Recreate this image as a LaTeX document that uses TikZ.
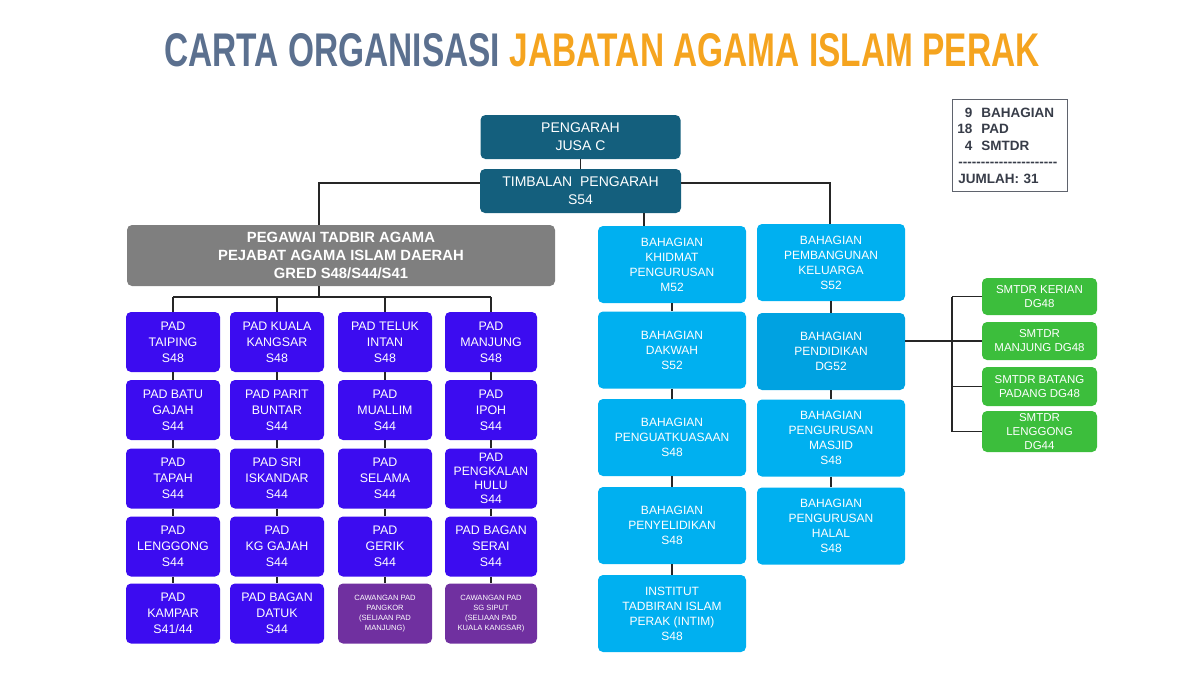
\documentclass[tikz,border=0pt]{standalone}
\usepackage{fontspec}
\setmainfont{Liberation Sans}
\usepackage{graphicx}
\usepackage{xcolor}
\usetikzlibrary{positioning, calc}
\definecolor{titleslate}{RGB}{91,112,143}
\definecolor{titleorange}{RGB}{245,164,31}
\definecolor{headteal}{RGB}{20,95,125}
\definecolor{daerahgrey}{RGB}{127,127,127}
\definecolor{padblue}{RGB}{60,12,240}
\definecolor{cawpurple}{RGB}{112,48,160}
\definecolor{unitcyan}{RGB}{0,176,240}
\definecolor{unitcyandark}{RGB}{0,162,225}
\definecolor{smtdrgreen}{RGB}{60,190,60}
\definecolor{legendink}{RGB}{55,60,72}
\tikzset{
  orgbox/.style={rounded corners=5pt, text=white, align=center, inner sep=0pt},
  headbox/.style={orgbox, fill=headteal, minimum width=200pt, minimum height=44pt, font=\fontsize{14}{18}\selectfont},
  daerahbox/.style={orgbox, fill=daerahgrey, minimum width=428pt, minimum height=61pt, font=\bfseries\fontsize{14.8}{18}\selectfont},
  padbox/.style={orgbox, fill=padblue, minimum width=94pt, minimum height=60pt, font=\fontsize{12.4}{16}\selectfont},
  cawbox/.style={padbox, fill=cawpurple, font=\fontsize{7.6}{10}\selectfont},
  unitbox/.style={orgbox, fill=unitcyan, minimum width=148pt, minimum height=77pt, font=\fontsize{12}{15}\selectfont},
  smtdrbox/.style={orgbox, fill=smtdrgreen, minimum width=115pt, minimum height=39pt, font=\fontsize{11.5}{14}\selectfont},
  link/.style={draw=black!85, line width=1.3pt}
}

\begin{document}
\begin{tikzpicture}[x=1pt, y=-1pt]
    \useasboundingbox (0,0) rectangle (1200,675);

    % Title
    \node (title) at (602,50) {\resizebox{875pt}{33pt}{\bfseries\color{titleslate}CARTA ORGANISASI \color{titleorange}JABATAN AGAMA ISLAM PERAK}};

    % Summary box
    \node (legend) [draw=legendink!80, line width=0.8pt, anchor=north west, minimum width=115pt, minimum height=92pt,
        inner xsep=6pt, inner ysep=3pt, text width=103pt, align=left, text=legendink,
        font=\bfseries\fontsize{13.5}{16.5}\selectfont] at (952,99)
        {\makebox[14pt][r]{9}\ \ BAHAGIAN\\
         \makebox[14pt][r]{18}\ \ PAD\\
         \makebox[14pt][r]{4}\ \ SMTDR\\
         -{}-{}-{}-{}-{}-{}-{}-{}-{}-{}-{}-{}-{}-{}-{}-{}-{}-{}-{}-{}-{}-{}\\
         JUMLAH: 31};

    % Top management
    \node[headbox] (pengarah) at (580.5,137) {PENGARAH\\JUSA C};
    \node[headbox, minimum width=201pt] (timbalan) at (580.5,191) {TIMBALAN\ \ PENGARAH\\S54};
    \node[daerahbox] (pegawai) at (341,255.5) {PEGAWAI TADBIR AGAMA\\PEJABAT AGAMA ISLAM DAERAH\\GRED S48/S44/S41};

    % PAD columns
    \node[padbox] (taiping)   at (173,342)   {PAD\\TAIPING\\S48};
    \node[padbox] (batugajah) at (173,410)   {PAD BATU\\GAJAH\\S44};
    \node[padbox] (tapah)     at (173,478.5) {PAD\\TAPAH\\S44};
    \node[padbox] (lenggong)  at (173,546.5) {PAD\\LENGGONG\\S44};
    \node[padbox] (kampar)    at (173,613.5) {PAD\\KAMPAR\\S41/44};

    \node[padbox] (kuala)     at (277,342)   {PAD KUALA\\KANGSAR\\S48};
    \node[padbox] (parit)     at (277,410)   {PAD PARIT\\BUNTAR\\S44};
    \node[padbox] (iskandar)  at (277,478.5) {PAD SRI\\ISKANDAR\\S44};
    \node[padbox] (kggajah)   at (277,546.5) {PAD\\KG GAJAH\\S44};
    \node[padbox] (datuk)     at (277,613.5) {PAD BAGAN\\DATUK\\S44};

    \node[padbox] (teluk)     at (385,342)   {PAD TELUK\\INTAN\\S48};
    \node[padbox] (muallim)   at (385,410)   {PAD\\MUALLIM\\S44};
    \node[padbox] (selama)    at (385,478.5) {PAD\\SELAMA\\S44};
    \node[padbox] (gerik)     at (385,546.5) {PAD\\GERIK\\S44};
    \node[cawbox] (pangkor)   at (385,613.5) {CAWANGAN PAD\\PANGKOR\\(SELIAAN PAD\\MANJUNG)};

    \node[padbox, minimum width=92pt] (manjung)  at (491,342)   {PAD\\MANJUNG\\S48};
    \node[padbox, minimum width=92pt] (ipoh)     at (491,410)   {PAD\\IPOH\\S44};
    \node[padbox, minimum width=92pt, font=\fontsize{12.2}{14}\selectfont] (pengkalan) at (491,478.5) {PAD\\PENGKALAN\\HULU\\S44};
    \node[padbox, minimum width=92pt] (serai)    at (491,546.5) {PAD BAGAN\\SERAI\\S44};
    \node[cawbox, minimum width=92pt] (sgsiput)  at (491,613.5) {CAWANGAN PAD\\SG SIPUT\\(SELIAAN PAD\\KUALA KANGSAR)};

    % Bahagian columns
    \node[unitbox] (khidmat)    at (672,264.5) {BAHAGIAN\\KHIDMAT\\PENGURUSAN\\M52};
    \node[unitbox] (dakwah)     at (672,350)   {BAHAGIAN\\DAKWAH\\S52};
    \node[unitbox] (kuasa)      at (672,437.5) {BAHAGIAN\\PENGUATKUASAAN\\S48};
    \node[unitbox] (selidik)    at (672,525.5) {BAHAGIAN\\PENYELIDIKAN\\S48};
    \node[unitbox] (intim)      at (672,613.5) {INSTITUT\\TADBIRAN ISLAM\\PERAK (INTIM)\\S48};

    \node[unitbox] (keluarga)   at (831,262.5) {BAHAGIAN\\PEMBANGUNAN\\KELUARGA\\S52};
    \node[unitbox, fill=unitcyandark] (pendidikan) at (831,351.5) {BAHAGIAN\\PENDIDIKAN\\DG52};
    \node[unitbox] (masjid)     at (831,438)   {BAHAGIAN\\PENGURUSAN\\MASJID\\S48};
    \node[unitbox] (halal)      at (831,526)   {BAHAGIAN\\PENGURUSAN\\HALAL\\S48};

    % SMTDR
    \node[smtdrbox, minimum height=37pt] (kerian)  at (1039.5,296.5) {SMTDR KERIAN\\DG48};
    \node[smtdrbox, minimum height=38pt] (smanjung) at (1039.5,341) {SMTDR\\MANJUNG DG48};
    \node[smtdrbox] (batang)   at (1039.5,386.5) {SMTDR BATANG\\PADANG DG48};
    \node[smtdrbox, minimum height=41pt] (slenggong) at (1039.5,431.5) {SMTDR\\LENGGONG\\DG44};

    % Connectors
    \coordinate (leftturn) at (319,183);
    \coordinate (rightturn) at (830,183);
    \coordinate (khidmatdrop) at (644,0);
    \coordinate (padbus) at (319,297);
    \coordinate (smtdrbus) at (952,0);

    \draw[link] (pengarah.south) -- (timbalan.north);
    \draw[link] (timbalan.west |- leftturn) -- (leftturn) -- (leftturn |- pegawai.north);
    \draw[link] (timbalan.east |- rightturn) -- (rightturn) -- (rightturn |- keluarga.north);
    \draw[link] (timbalan.south -| khidmatdrop) -- (khidmat.north -| khidmatdrop);

    \draw[link] (pegawai.south -| padbus) -- (padbus);
    \draw[link] (taiping.north |- padbus) -- (manjung.north |- padbus);
    \foreach \top in {taiping, kuala, teluk, manjung}
        \draw[link] (\top.north |- padbus) -- (\top.north);

    \draw[link] (taiping.south) -- (batugajah.north) (batugajah.south) -- (tapah.north)
        (tapah.south) -- (lenggong.north) (lenggong.south) -- (kampar.north);
    \draw[link] (kuala.south) -- (parit.north) (parit.south) -- (iskandar.north)
        (iskandar.south) -- (kggajah.north) (kggajah.south) -- (datuk.north);
    \draw[link] (teluk.south) -- (muallim.north) (muallim.south) -- (selama.north)
        (selama.south) -- (gerik.north) (gerik.south) -- (pangkor.north);
    \draw[link] (manjung.south) -- (ipoh.north) (ipoh.south) -- (pengkalan.north)
        (pengkalan.south) -- (serai.north) (serai.south) -- (sgsiput.north);

    \draw[link] (khidmat.south) -- (dakwah.north) (dakwah.south) -- (kuasa.north)
        (kuasa.south) -- (selidik.north) (selidik.south) -- (intim.north);
    \draw[link] (keluarga.south) -- (pendidikan.north) (pendidikan.south) -- (masjid.north)
        (masjid.south) -- (halal.north);

    \draw[link] (pendidikan.east |- smanjung.west) -- (smanjung.west);
    \draw[link] (kerian.west -| smtdrbus) -- (slenggong.west -| smtdrbus);
    \foreach \leaf in {kerian, batang, slenggong}
        \draw[link] (\leaf.west -| smtdrbus) -- (\leaf.west);
\end{tikzpicture}
\end{document}
